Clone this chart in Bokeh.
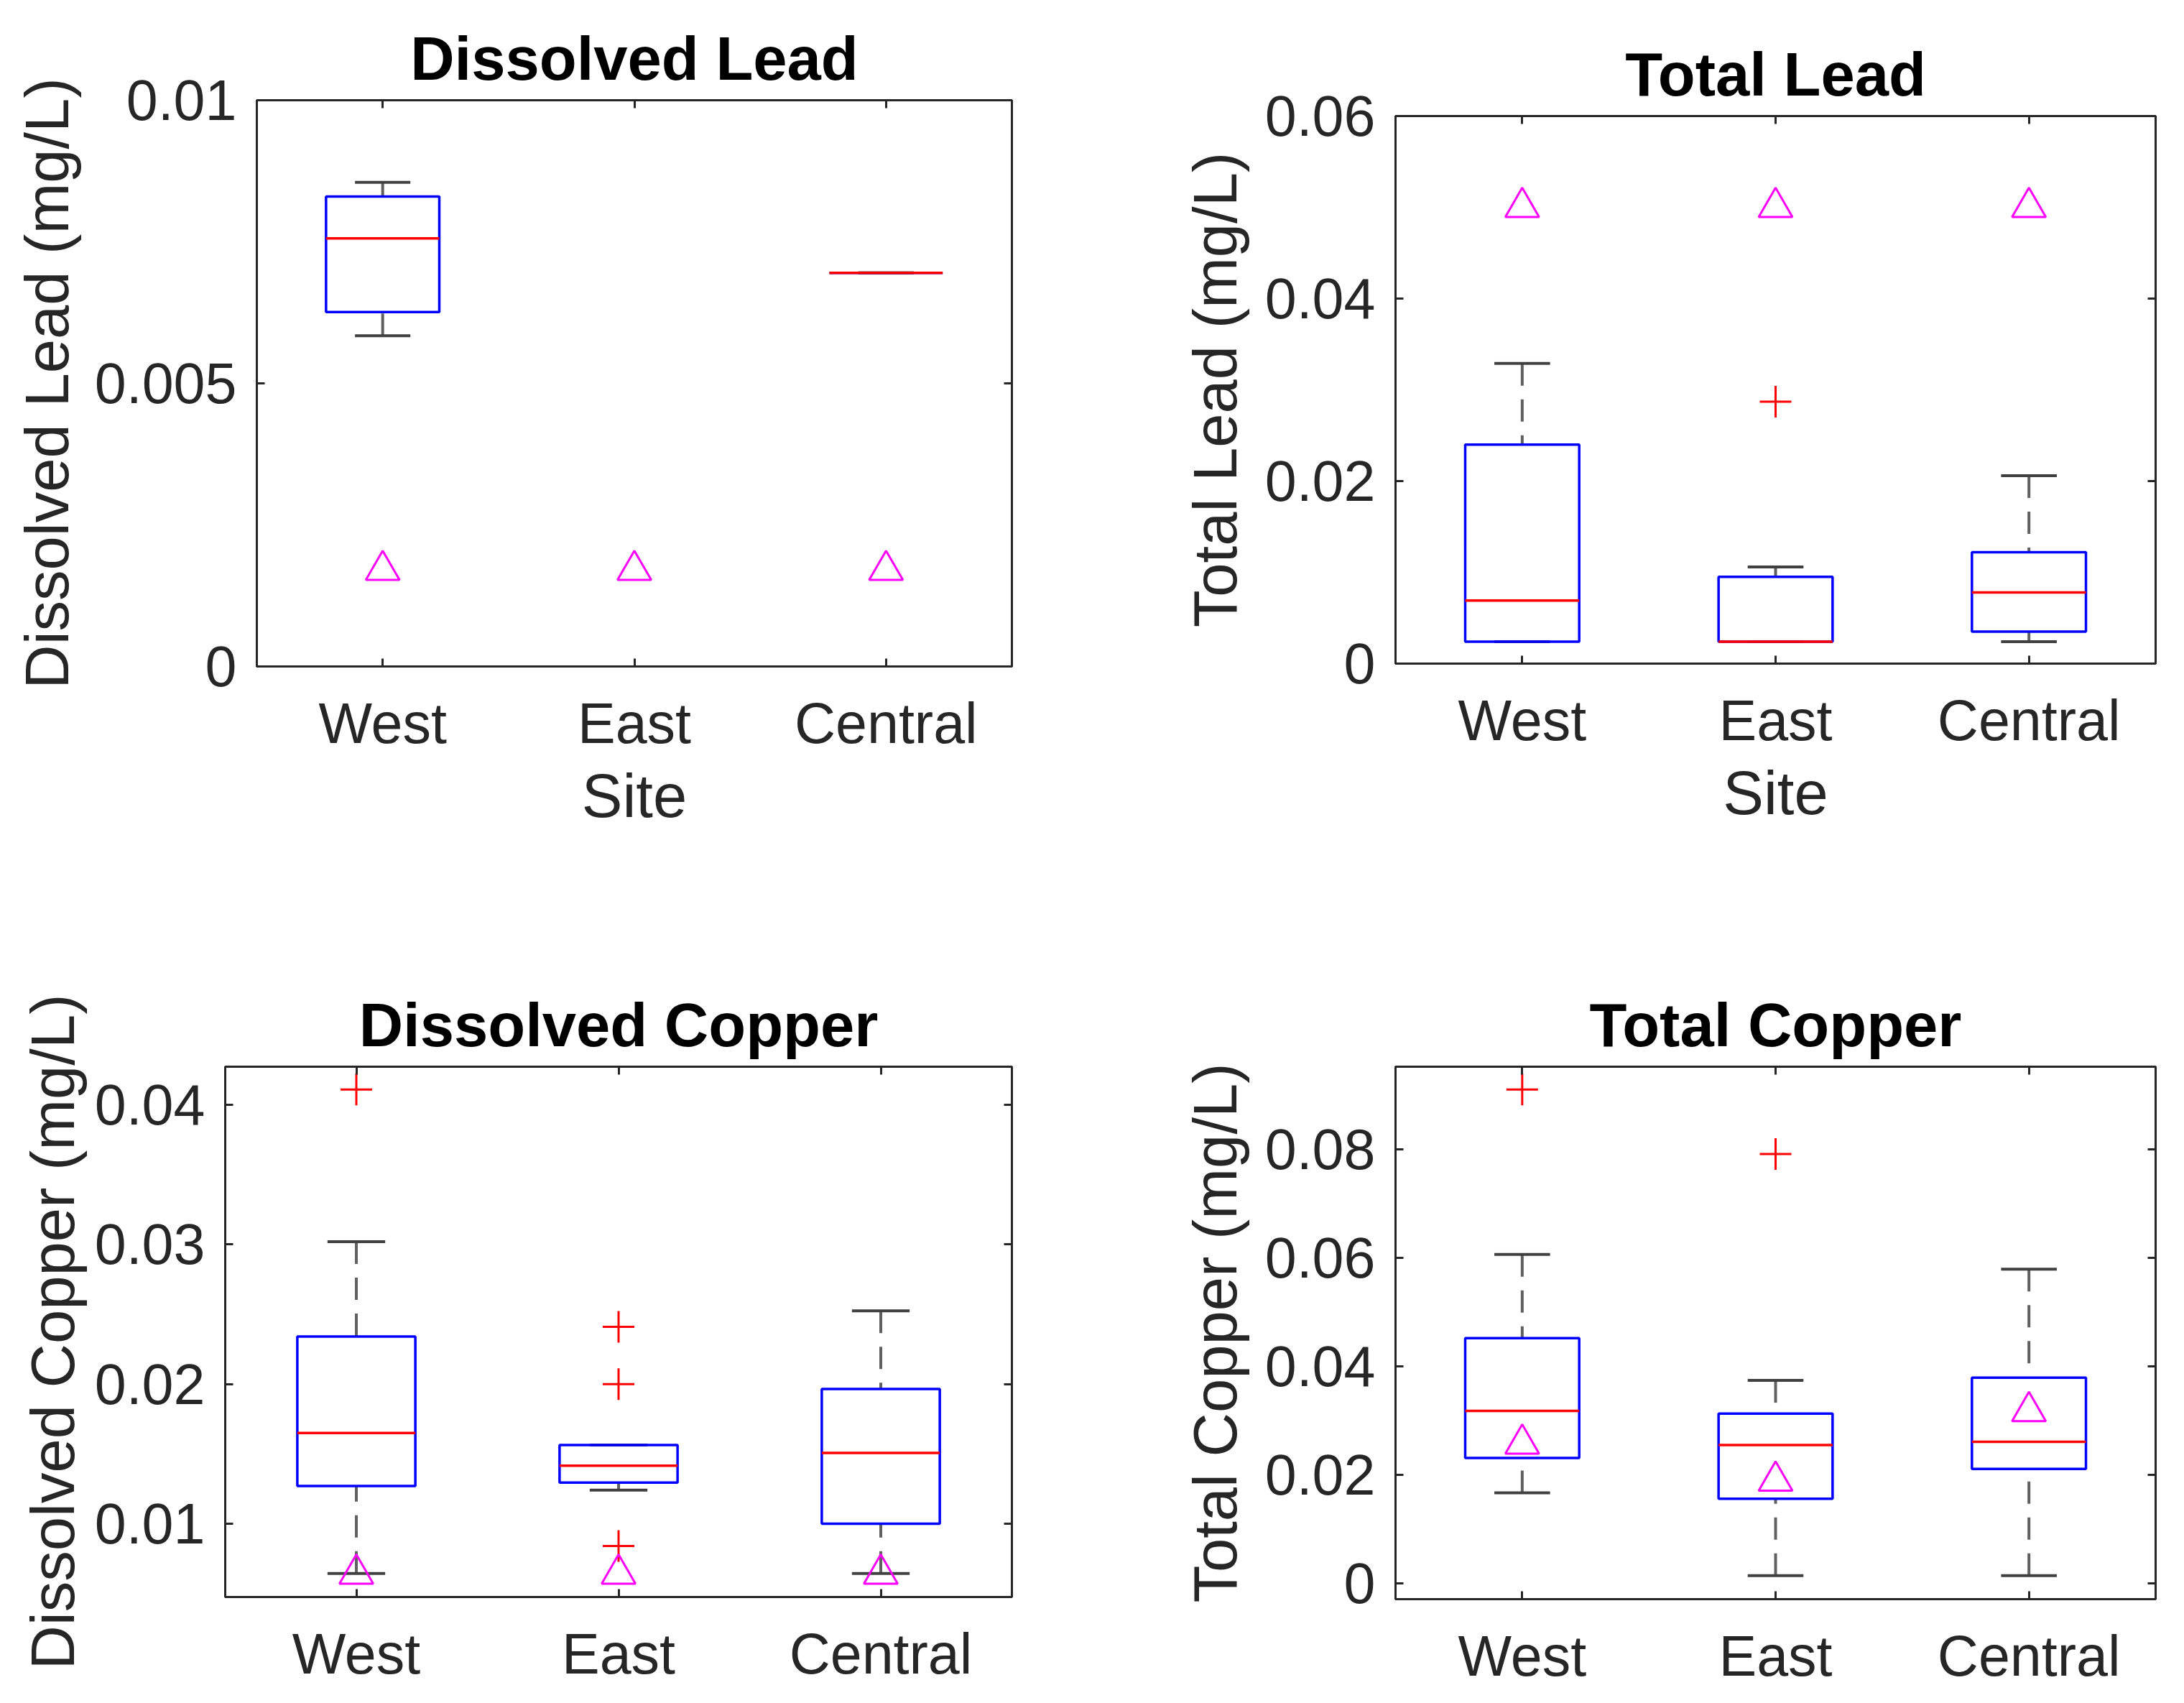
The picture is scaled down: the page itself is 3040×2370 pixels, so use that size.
import math
from bokeh.plotting import figure
from bokeh.layouts import column, row
from bokeh.models import Range1d, FixedTicker, LinearAxis
from bokeh.embed import file_html
from bokeh.resources import INLINE

nan = float("nan")

# ---------------- data ----------------
sites = ["West", "East", "Central"]

# Dissolved Lead (mg/L)
dl_q1 = [0.00626, nan, 0.00695]
dl_med = [0.00756, nan, 0.00695]
dl_q3 = [0.00830, nan, 0.00695]
dl_lo = [0.00584, nan, 0.00695]
dl_hi = [0.00855, nan, 0.00695]
dl_out = [[], [], []]
dl_ref = [0.0017, 0.0017, 0.0017]
dl_yticks = [0, 0.005, 0.01]
dl_ylabels = ["0", "0.005", "0.01"]

# Total Lead (mg/L)
tl_q1 = [0.0024, 0.0024, 0.0035]
tl_med = [0.0069, 0.0024, 0.0078]
tl_q3 = [0.0240, 0.0095, 0.0122]
tl_lo = [0.0024, 0.0024, 0.0024]
tl_hi = [0.0329, 0.0106, 0.0206]
tl_out = [[], [0.0287], []]
tl_ref = [0.050, 0.050, 0.050]
tl_yticks = [0, 0.02, 0.04, 0.06]
tl_ylabels = ["0", "0.02", "0.04", "0.06"]

# Dissolved Copper (mg/L)
dc_q1 = [0.0127, 0.01294, 0.0100]
dc_med = [0.0165, 0.01416, 0.01507]
dc_q3 = [0.0234, 0.01563, 0.01965]
dc_lo = [0.00643, 0.01241, 0.00643]
dc_hi = [0.0302, 0.01563, 0.02524]
dc_out = [[0.0411], [0.0241, 0.0200, 0.0084], []]
dc_ref = [0.0064, 0.0064, 0.0064]
dc_yticks = [0.01, 0.02, 0.03, 0.04]
dc_ylabels = ["0.01", "0.02", "0.03", "0.04"]

# Total Copper (mg/L)
tc_q1 = [0.0231, 0.0156, 0.0211]
tc_med = [0.0318, 0.0255, 0.0261]
tc_q3 = [0.0452, 0.0313, 0.0379]
tc_lo = [0.0167, 0.00145, 0.00145]
tc_hi = [0.0606, 0.0374, 0.0579]
tc_out = [[0.0910], [0.0791], []]
tc_ref = [0.0257, 0.0189, 0.0317]
tc_yticks = [0, 0.02, 0.04, 0.06, 0.08]
tc_ylabels = ["0", "0.02", "0.04", "0.06", "0.08"]

# ---------------- style ----------------
FONT = "Liberation Sans"
TEXT = "#262626"
BOX_W = 0.45
CAP_W = 0.22
TICK_FS = "79px"
LABEL_FS = "85px"


def style_axis(ax, ticks, labels=None, standoff=30):
    ax.ticker = FixedTicker(ticks=ticks)
    ax.major_tick_in = 11
    ax.major_tick_out = 0
    ax.minor_tick_line_color = None
    ax.major_tick_line_width = 3
    ax.major_tick_line_color = TEXT
    ax.axis_line_width = 3
    ax.axis_line_color = TEXT
    if labels is not None:
        ax.major_label_overrides = dict(zip(ticks, labels))
        ax.major_label_text_font = FONT
        ax.major_label_text_font_size = TICK_FS
        ax.major_label_text_color = TEXT
        ax.major_label_standoff = standoff
    else:
        ax.major_label_text_font_size = "0px"
        ax.major_label_standoff = 0
        ax.major_label_text_alpha = 0


def ok(v):
    return v is not None and not math.isnan(v)


def make_panel(title, ylabel, xlabel, q1, med, q3, lo, hi, outl, ref,
               yr, yticks, ylabels, width, height, borders, ylab_standoff):
    p = figure(width=width, height=height,
               x_range=Range1d(0.5, 3.5), y_range=Range1d(*yr),
               output_backend="svg", toolbar_location=None,
               min_border_left=borders[0], min_border_right=borders[1],
               min_border_top=borders[2], min_border_bottom=borders[3])
    p.grid.visible = False
    p.outline_line_color = TEXT
    p.outline_line_width = 3
    p.background_fill_color = "white"
    p.border_fill_color = "white"

    xs = [i + 1 for i in range(len(sites))]

    # whiskers (dashed) from caps toward box
    wx, wy0, wy1 = [], [], []
    for x, a, b in zip(xs, hi, q3):
        if ok(a) and ok(b) and a != b:
            wx.append(x); wy0.append(a); wy1.append(b)
    for x, a, b in zip(xs, lo, q1):
        if ok(a) and ok(b) and a != b:
            wx.append(x); wy0.append(a); wy1.append(b)
    p.segment(x0=wx, y0=wy0, x1=wx, y1=wy1, line_color="#606060",
              line_width=4, line_dash="31 19")

    # caps
    cx0, cx1, cy = [], [], []
    for x, a, b in zip(xs, hi, lo):
        for v in (a, b):
            if ok(v):
                cx0.append(x - CAP_W / 2); cx1.append(x + CAP_W / 2); cy.append(v)
    p.segment(x0=cx0, y0=cy, x1=cx1, y1=cy, line_color="#404040", line_width=4)

    # boxes
    bl, br, bb, bt = [], [], [], []
    for x, a, b in zip(xs, q1, q3):
        if ok(a) and ok(b):
            bl.append(x - BOX_W / 2); br.append(x + BOX_W / 2); bb.append(a); bt.append(b)
    p.quad(left=bl, right=br, bottom=bb, top=bt, fill_color=None,
           line_color="#0000ff", line_width=3.5)

    # medians
    mx0, mx1, my = [], [], []
    for x, m in zip(xs, med):
        if ok(m):
            mx0.append(x - BOX_W / 2); mx1.append(x + BOX_W / 2); my.append(m)
    p.segment(x0=mx0, y0=my, x1=mx1, y1=my, line_color="#ff0000", line_width=3.5)

    # outliers
    ox, oy = [], []
    for x, vals in zip(xs, outl):
        for v in vals:
            ox.append(x); oy.append(v)
    if ox:
        p.scatter(ox, oy, marker="cross", size=44, line_color="#ff0000",
                  line_width=3)

    # reference triangles
    rx = [x for x, v in zip(xs, ref) if ok(v)]
    ry = [v for v in ref if ok(v)]
    p.scatter(rx, ry, marker="triangle", size=47, fill_color=None,
              line_color="#ff00ff", line_width=3)

    # axes
    xa = p.xaxis[0]
    style_axis(xa, xs, sites, standoff=34)
    if xlabel:
        xa.axis_label = xlabel
        xa.axis_label_text_font = FONT
        xa.axis_label_text_font_size = LABEL_FS
        xa.axis_label_text_font_style = "normal"
        xa.axis_label_text_color = TEXT
        xa.axis_label_standoff = 6
    ya = p.yaxis[0]
    style_axis(ya, yticks, ylabels, standoff=28)
    ya.axis_label = ylabel
    ya.axis_label_text_font = FONT
    ya.axis_label_text_font_size = LABEL_FS
    ya.axis_label_text_font_style = "normal"
    ya.axis_label_text_color = TEXT
    ya.axis_label_standoff = ylab_standoff

    top_ax = LinearAxis()
    style_axis(top_ax, xs)
    p.add_layout(top_ax, "above")
    right_ax = LinearAxis()
    style_axis(right_ax, yticks)
    p.add_layout(right_ax, "right")

    p.title.text = title
    p.title.text_font = FONT
    p.title.text_font_size = LABEL_FS
    p.title.text_font_style = "bold"
    p.title.text_color = "black"
    p.title.align = "center"
    p.title.standoff = 22
    return p


p1 = make_panel("Dissolved Lead", "Dissolved Lead (mg/L)", "Site",
                dl_q1, dl_med, dl_q3, dl_lo, dl_hi, dl_out, dl_ref,
                (0, 0.01), dl_yticks, dl_ylabels,
                1600, 1200, (357, 192, 139, 273), 16)
p2 = make_panel("Total Lead", "Total Lead (mg/L)", "Site",
                tl_q1, tl_med, tl_q3, tl_lo, tl_hi, tl_out, tl_ref,
                (0, 0.06), tl_yticks, tl_ylabels,
                1432, 1200, (342, 32, 161, 277), 19)
p3 = make_panel("Dissolved Copper", "Dissolved Copper (mg/L)", None,
                dc_q1, dc_med, dc_q3, dc_lo, dc_hi, dc_out, dc_ref,
                (0.00475, 0.04273), dc_yticks, dc_ylabels,
                1600, 1162, (313, 192, 284, 140), 8)
p4 = make_panel("Total Copper", "Total Copper (mg/L)", None,
                tc_q1, tc_med, tc_q3, tc_lo, tc_hi, tc_out, tc_ref,
                (-0.0029, 0.0952), tc_yticks, tc_ylabels,
                1432, 1162, (342, 32, 284, 137), 19)

layout = column(row(column(p1), column(p2)), row(column(p3), column(p4)))

open("out.html", "w").write(file_html(layout, INLINE))
